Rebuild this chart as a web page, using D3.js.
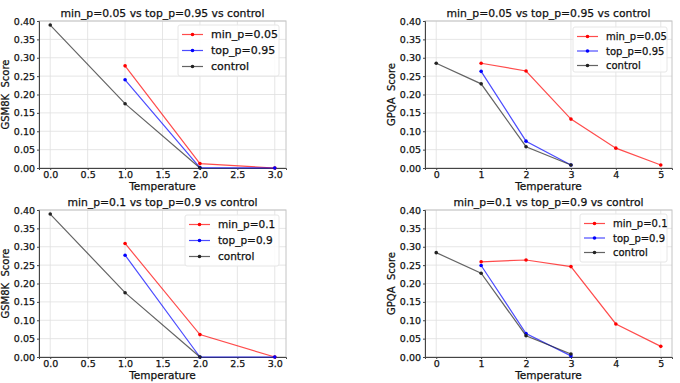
<!DOCTYPE html>
<html>
<head>
<meta charset="utf-8">
<script src="https://cdn.jsdelivr.net/npm/d3@7"></script>
<style>
  html, body { margin: 0; padding: 0; background: #fff; }
  svg { display: block; font-family: "DejaVu Sans", sans-serif; }
  svg text { stroke: #111; stroke-width: 0.25px; }
</style>
</head>
<body>
<svg id="chart" width="680" height="383"></svg>
<script>
// temperatures per series
const gsmMinT  = [1, 2, 3];
const gsmCtrlT = [0, 1, 2];
const gpqaMinT  = [1, 2, 3, 4, 5];
const gpqaTopT  = [1, 2, 3];
const gpqaCtrlT = [0, 1, 2, 3];

// scores
const gsm005Min = [0.278, 0.012, 0.0];
const gsm095Top = [0.240, 0.001, 0.0];
const gsmCtrlA  = [0.389, 0.175, 0.0];
const gsm01Min  = [0.309, 0.061, 0.0];
const gsm09Top  = [0.277, 0.0, 0.0];
const gsmCtrlB  = [0.389, 0.175, 0.0];

const gpqa005Min = [0.285, 0.264, 0.133, 0.054, 0.008];
const gpqa095Top = [0.263, 0.073, 0.008];
const gpqaCtrlA  = [0.285, 0.229, 0.058, 0.008];
const gpqa01Min  = [0.259, 0.264, 0.246, 0.090, 0.029];
const gpqa09Top  = [0.249, 0.064, 0.003];
const gpqaCtrlB  = [0.284, 0.228, 0.058, 0.008];

const gsmTicks  = [0, 0.5, 1, 1.5, 2, 2.5, 3];
const gpqaTicks = [0, 1, 2, 3, 4, 5];
const yTicks    = [0, 0.05, 0.1, 0.15, 0.2, 0.25, 0.3, 0.35, 0.4];

const COLOR = { min: '#ff0000', top: '#0000ff', ctrl: '#222222' };

const panels = [
  { box: [39, 286, 21, 168], xd: [-0.15, 3.15], xt: gsmTicks, xf: d3.format('.1f'),
    title: 'min_p=0.05 vs top_p=0.95 vs control', ylab: 'GSM8K  Score',
    leg: { x: 178, y: 25, w: 101, h: 51, fs: 11, row: 16 },
    series: [
      { name: 'min_p=0.05', c: 'min', t: gsmMinT, v: gsm005Min },
      { name: 'top_p=0.95', c: 'top', t: gsmMinT, v: gsm095Top },
      { name: 'control',    c: 'ctrl', t: gsmCtrlT, v: gsmCtrlA },
    ] },
  { box: [425, 672, 21, 168], xd: [-0.25, 5.25], xt: gpqaTicks, xf: d3.format('d'),
    title: 'min_p=0.05 vs top_p=0.95 vs control', ylab: 'GPQA  Score',
    leg: { x: 573, y: 27, w: 94, h: 45, fs: 10, row: 14.5 },
    series: [
      { name: 'min_p=0.05', c: 'min', t: gpqaMinT, v: gpqa005Min },
      { name: 'top_p=0.95', c: 'top', t: gpqaTopT, v: gpqa095Top },
      { name: 'control',    c: 'ctrl', t: gpqaCtrlT, v: gpqaCtrlA },
    ] },
  { box: [39, 286, 210, 357], xd: [-0.15, 3.15], xt: gsmTicks, xf: d3.format('.1f'),
    title: 'min_p=0.1 vs top_p=0.9 vs control', ylab: 'GSM8K  Score',
    leg: { x: 185, y: 215, w: 94, h: 51, fs: 10.5, row: 16 },
    series: [
      { name: 'min_p=0.1', c: 'min', t: gsmMinT, v: gsm01Min },
      { name: 'top_p=0.9', c: 'top', t: gsmMinT, v: gsm09Top },
      { name: 'control',   c: 'ctrl', t: gsmCtrlT, v: gsmCtrlB },
    ] },
  { box: [425, 672, 210, 357], xd: [-0.25, 5.25], xt: gpqaTicks, xf: d3.format('d'),
    title: 'min_p=0.1 vs top_p=0.9 vs control', ylab: 'GPQA  Score',
    leg: { x: 580, y: 214, w: 87, h: 48, fs: 10, row: 14.5 },
    series: [
      { name: 'min_p=0.1', c: 'min', t: gpqaMinT, v: gpqa01Min },
      { name: 'top_p=0.9', c: 'top', t: gpqaTopT, v: gpqa09Top },
      { name: 'control',   c: 'ctrl', t: gpqaCtrlT, v: gpqaCtrlB },
    ] },
];

const svg = d3.select('#chart');

panels.forEach(p => {
  const [l, r, t, b] = p.box;
  const x = d3.scaleLinear().domain(p.xd).range([l, r]);
  const y = d3.scaleLinear().domain([0, 0.4]).range([b, t]);
  const g = svg.append('g');

  // grid
  g.append('g').selectAll('line').data(p.xt).join('line')
    .attr('x1', d => x(d)).attr('x2', d => x(d)).attr('y1', t).attr('y2', b)
    .attr('stroke', '#e0e0e0').attr('stroke-width', 0.8);
  g.append('g').selectAll('line').data(yTicks).join('line')
    .attr('x1', l).attr('x2', r).attr('y1', d => y(d)).attr('y2', d => y(d))
    .attr('stroke', '#e0e0e0').attr('stroke-width', 0.8);

  // frame: light top/right, dark left/bottom
  g.append('rect').attr('x', l).attr('y', t).attr('width', r - l).attr('height', b - t)
    .attr('fill', 'none').attr('stroke', '#c4c4c4').attr('stroke-width', 1);

  const xAxis = g.append('g').attr('transform', `translate(0,${b})`)
    .call(d3.axisBottom(x).tickValues(p.xt).tickFormat(p.xf).tickSize(2).tickPadding(1));
  const yAxis = g.append('g').attr('transform', `translate(${l},0)`)
    .call(d3.axisLeft(y).tickValues(yTicks).tickFormat(d3.format('.2f')).tickSize(2).tickPadding(2));
  [xAxis, yAxis].forEach(a => {
    a.select('.domain').attr('stroke', '#444').attr('stroke-width', 1);
    a.selectAll('.tick line').attr('stroke', '#444');
    a.selectAll('.tick text').attr('fill', '#111').style('font-size', '9.5px')
      .style('font-family', '"DejaVu Sans", sans-serif');
  });

  // series
  const line = d3.line().x(d => x(d[0])).y(d => y(d[1]));
  p.series.forEach(s => {
    const pts = s.t.map((tv, i) => [tv, s.v[i]]);
    g.append('path').datum(pts).attr('d', line)
      .attr('fill', 'none').attr('stroke', COLOR[s.c]).attr('stroke-opacity', 0.7)
      .attr('stroke-width', 1.2);
    g.append('g').selectAll('circle').data(pts).join('circle')
      .attr('cx', d => x(d[0])).attr('cy', d => y(d[1])).attr('r', 1.8)
      .attr('fill', COLOR[s.c]);
  });

  // title & labels
  g.append('text').attr('x', (l + r) / 2).attr('y', t - 4).attr('text-anchor', 'middle')
    .style('font-size', '10.8px').attr('fill', '#111').text(p.title);
  g.append('text').attr('x', (l + r) / 2).attr('y', b + 22).attr('text-anchor', 'middle')
    .style('font-size', '10.5px').attr('fill', '#111').text('Temperature');
  g.append('text')
    .attr('transform', `translate(${l - 30},${(t + b) / 2}) rotate(-90)`)
    .attr('text-anchor', 'middle').style('font-size', '10px').attr('fill', '#111')
    .style('white-space', 'pre').attr('xml:space', 'preserve').text(p.ylab);

  // legend
  const L = p.leg;
  const lg = g.append('g').attr('transform', `translate(${L.x},${L.y})`);
  lg.append('rect').attr('width', L.w).attr('height', L.h).attr('rx', 2)
    .attr('fill', '#fff').attr('fill-opacity', 0.85).attr('stroke', '#e6e6e6');
  p.series.forEach((s, i) => {
    const cy = 9.5 + i * L.row;
    lg.append('line').attr('x1', 4).attr('x2', 25).attr('y1', cy).attr('y2', cy)
      .attr('stroke', COLOR[s.c]).attr('stroke-opacity', 0.7).attr('stroke-width', 1.2);
    lg.append('circle').attr('cx', 14.5).attr('cy', cy).attr('r', 1.8).attr('fill', COLOR[s.c]);
    lg.append('text').attr('x', 33).attr('y', cy).attr('dy', '0.35em')
      .style('font-size', L.fs + 'px').attr('fill', '#111').text(s.name);
  });
});
</script>
</body>
</html>
